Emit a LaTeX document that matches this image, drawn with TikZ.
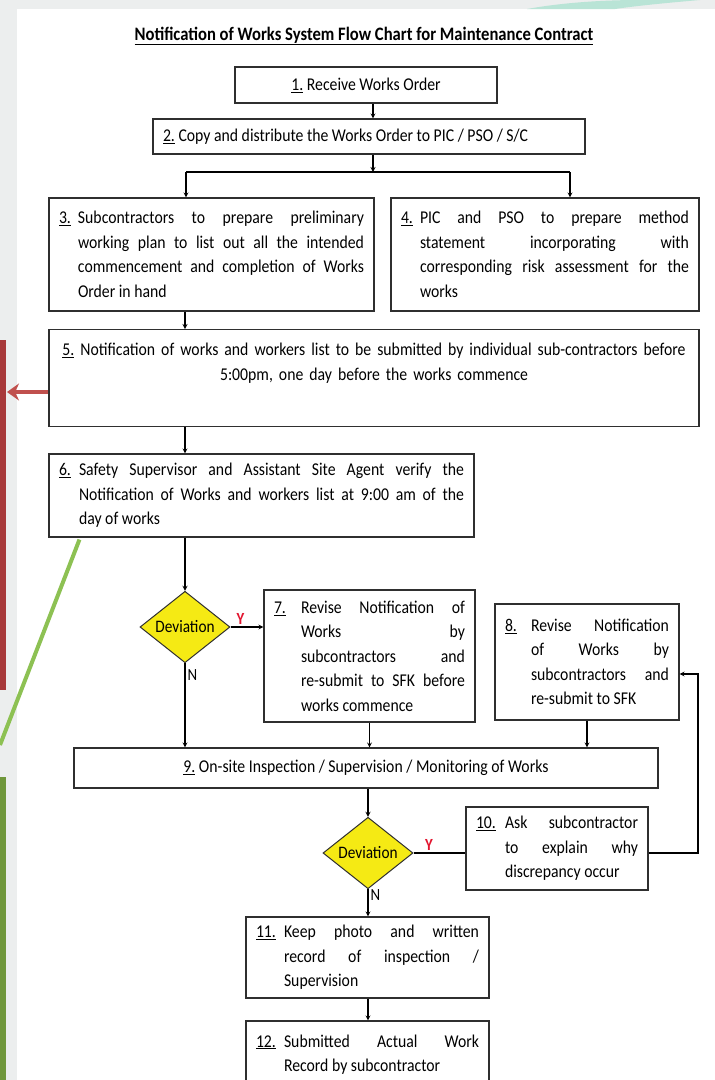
\documentclass[tikz,border=0pt]{standalone}
\usepackage{fontspec}
\setmainfont{Carlito}[FakeStretch=0.875]
\usetikzlibrary{shapes.geometric}
\usetikzlibrary{arrows.meta}
\usetikzlibrary{calc}

\definecolor{diayellow}{HTML}{F5EA14}
\definecolor{markred}{HTML}{E2152F}
\definecolor{barred}{HTML}{A8393A}
\definecolor{arrred}{HTML}{C0504D}
\definecolor{linegreen}{HTML}{8DC153}
\definecolor{bargreen}{HTML}{6F973B}
\definecolor{panelgray}{HTML}{ECEEEE}
\definecolor{topteal}{HTML}{B9E4D6}
\definecolor{boxline}{HTML}{2F2F2F}

\tolerance=10000
\hyphenpenalty=10000

\newcommand{\steptext}[3]{\hangindent=#1\hangafter=1\noindent\makebox[#1][l]{\underline{#2}}#3\par}

\tikzset{
  box/.style={draw=boxline,line width=1.1pt,fill=white,inner xsep=10pt,inner ysep=4pt,
    font=\fontsize{18}{24.5}\selectfont},
  jbox/.style={box,align=justify},
  decision/.style={diamond,draw=boxline,line width=1pt,fill=diayellow,inner sep=0pt,
    minimum width=90pt,minimum height=65pt,font=\fontsize{17.5}{20}\selectfont},
  arr/.style={line width=1.2pt,->,>=stealth},
  link/.style={line width=1.2pt},
  ylab/.style={text=markred,font=\bfseries\fontsize{17}{18}\selectfont,inner sep=2pt},
  nlab/.style={font=\fontsize{17}{18}\selectfont,inner sep=2pt}
}

\begin{document}
\begin{tikzpicture}[x=1pt,y=-1pt]

          \useasboundingbox (0,0) rectangle (715,1080); %画像の大きさ
          \fill[panelgray] (0,0) rectangle (715,1080); %背景
          \fill[white] (17,9) rectangle (715,1080); %白い面
          \fill[topteal] (527,9) .. controls (560,3) and (600,0) .. (640,0)
            -- (700,0) .. controls (665,3) and (635,6) .. (615,9) -- cycle; %上の飾り
          \fill[barred] (0,340) rectangle (6,690); %赤い帯
          \fill[bargreen] (0,777) rectangle (6,1080); %緑の帯

          \node[font=\bfseries\fontsize{19}{22}\selectfont] (title) at (364,36)
            {\underline{Notification of Works System Flow Chart for Maintenance Contract}}; %表題

          \node[box,minimum width=262pt,minimum height=36pt] (b1) at (366,85)
            {\underline{1.} Receive Works Order}; %1
          \node[box,text width=412pt,align=flush left,minimum height=35pt] (b2) at (369,136.5)
            {\underline{2.} Copy and distribute the Works Order to PIC / PSO / S/C}; %2
          \node[jbox,text width=305pt,minimum height=113pt] (b3) at (211.5,254.5)
            {\steptext{19pt}{3.}{Subcontractors to prepare preliminary\linebreak
             working plan to list out all the intended\linebreak
             commencement and completion of Works\linebreak
             Order in hand}}; %3
          \node[jbox,text width=288pt,minimum height=113pt] (b4) at (545,254.5)
            {\steptext{19pt}{4.}{PIC and PSO to prepare method\linebreak
             statement incorporating with\linebreak
             corresponding risk assessment for the\linebreak
             works}}; %4
          \node[box,text width=630pt,align=center,minimum height=97pt,inner ysep=13pt,anchor=north] (b5) at (374,329)
            {\parbox[t][70pt][t]{630pt}{\centering
             \underline{5.} Notification of works and workers list to be submitted by individual sub-contractors before\\
             5:00pm, one day before the works commence}}; %5
          \node[jbox,text width=405pt,minimum height=83pt] (b6) at (261.5,495.5)
            {\steptext{20pt}{6.}{Safety Supervisor and Assistant Site Agent verify the\linebreak
             Notification of Works and workers list at 9:00 am of the\linebreak
             day of works}}; %6

          \node[decision] (d1) at (185,627) {Deviation}; %判断1
          \node[jbox,text width=191pt,minimum height=132pt] (b7) at (369.5,656)
            {\steptext{27pt}{7.}{Revise Notification of\linebreak
             Works by\linebreak
             subcontractors and\linebreak
             re-submit to SFK before\linebreak
             works commence}}; %7
          \node[jbox,text width=164pt,minimum height=116pt] (b8) at (587,662)
            {\steptext{26pt}{8.}{Revise Notification\linebreak
             of Works by\linebreak
             subcontractors and\linebreak
             re-submit to SFK}}; %8
          \node[box,minimum width=584pt,minimum height=40pt] (b9) at (366,768)
            {\underline{9.} On-site Inspection / Supervision / Monitoring of Works}; %9

          \node[decision] (d2) at (368,853) {Deviation}; %判断2
          \node[jbox,text width=162pt,minimum height=83pt] (b10) at (557,848.5)
            {\steptext{29pt}{10.}{Ask subcontractor\linebreak
             to explain why\linebreak
             discrepancy occur}}; %10
          \node[jbox,text width=223pt,minimum height=81pt] (b11) at (367.5,957.5)
            {\steptext{28pt}{11.}{Keep photo and written\linebreak
             record of inspection /\linebreak
             Supervision}}; %11
          \node[jbox,text width=223pt,minimum height=67pt] (b12) at (367.5,1054.5)
            {\steptext{28pt}{12.}{Submitted Actual Work\linebreak
             Record by subcontractor}}; %12

          \coordinate (split) at (373,172); %分岐点
          \coordinate (splitL) at (186,172); %分岐左
          \coordinate (splitR) at (570,172); %分岐右
          \coordinate (loop) at (698,674); %戻り線の角
          \coordinate (redtip) at (7,392); %赤矢印の先

          \draw[arr] (b1.south -| split) -- (b2.north -| split); %1→2
          \draw[arr] (b2.south -| split) -- (split); %2→分岐
          \draw[line width=1.8pt] (splitL) -- (splitR); %分岐線
          \draw[arr] (splitL) -- (b3.north -| splitL); %→3
          \draw[arr] (splitR) -- (b4.north -| splitR); %→4
          \draw[arr] (b3.south -| d1) -- (b5.north -| d1); %3→5
          \draw[arr] (b5.south -| d1) -- (b6.north -| d1); %5→6
          \draw[arr] (b6.south -| d1) -- (d1.north); %6→判断1
          \draw[arr] (d1.east) -- (d1 -| b7.west) node[ylab,above,pos=.3] {Y}; %判断1→7
          \draw[arr] (d1.south) -- (b9.north -| d1) node[nlab,right,pos=.14] {N}; %判断1→9
          \draw[arr] (b7.south) -- (b7.south |- b9.north); %7→9
          \draw[arr] (b8.south) -- (b8.south |- b9.north); %8→9
          \draw[arr] (b9.south -| d2) -- (d2.north); %9→判断2
          \draw[link] (d2.east) -- (d2 -| b10.west) node[ylab,above,pos=.3] {Y}; %判断2→10
          \draw[arr] (b10.east |- d2) -| (loop) -- (loop -| b8.east); %10→8
          \draw[arr] (d2.south) -- (b11.north -| d2) node[nlab,right,pos=.2] {N}; %判断2→11
          \draw[arr] (b11.south -| d2) -- (b12.north -| d2); %11→12

          \draw[arrred,line width=4.5pt,-{Stealth[length=12pt,width=17pt]}] (b5.west |- redtip) -- (redtip); %赤矢印
          \draw[linegreen,line width=4pt] ($(b6.south west)+(31,2)$) -- (0,745); %緑の線

        \end{tikzpicture}
\end{document}
